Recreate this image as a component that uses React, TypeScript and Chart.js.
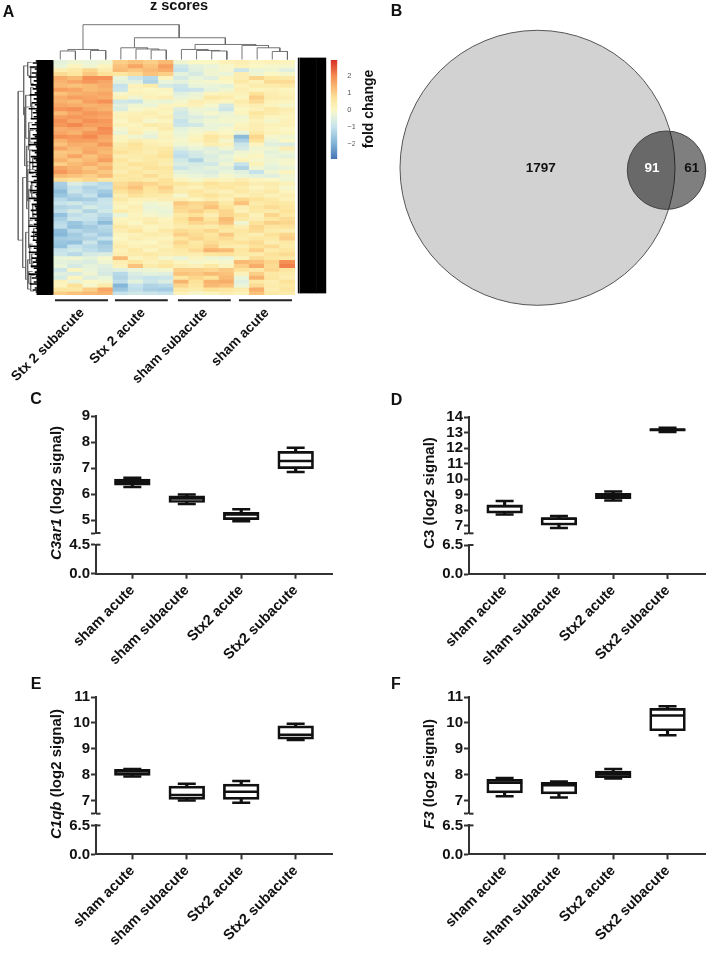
import React, { useEffect, useRef } from "react";
import { Chart, registerables } from "chart.js";

Chart.register(...registerables);
Chart.defaults.font.family = "'Liberation Sans', Arial, sans-serif";
Chart.defaults.animation = false as any;

const FONT = "'Liberation Sans', Arial, sans-serif";

// ---------- Box plots: [low whisker, Q1, median, Q3, high whisker]
const categories = ["sham acute", "sham subacute", "Stx2 acute", "Stx2 subacute"];
const c3ar1Box = [
  [6.28, 6.35, 6.46, 6.58, 6.63],
  [5.62, 5.68, 5.83, 5.94, 5.99],
  [4.96, 5.02, 5.22, 5.3, 5.42],
  [6.85, 6.98, 7.27, 7.64, 7.78],
];
const c3Box = [
  [7.72, 7.8, 8.25, 8.33, 8.58],
  [6.84, 7.02, 7.44, 7.52, 7.62],
  [8.62, 8.74, 8.91, 9.08, 9.2],
  [13.03, 13.09, 13.17, 13.25, 13.31],
];
const c1qbBox = [
  [7.94, 7.98, 8.13, 8.22, 8.23],
  [7.02, 7.06, 7.23, 7.57, 7.66],
  [6.93, 7.06, 7.35, 7.65, 7.77],
  [9.35, 9.38, 9.55, 9.89, 9.97],
];
const f3Box = [
  [7.18, 7.31, 7.7, 7.83, 7.88],
  [7.13, 7.27, 7.6, 7.72, 7.75],
  [7.86, 7.9, 8.03, 8.15, 8.23],
  [9.53, 9.7, 10.29, 10.56, 10.64],
];
const c3ar1Ticks = [5, 6, 7, 8, 9];
const c3Ticks = [7, 8, 9, 10, 11, 12, 13, 14];
const c1qbTicks = [7, 8, 9, 10, 11];
const f3Ticks = [7, 8, 9, 10, 11];

// ---------- Venn
const vennX = [152.5, 281.5];
const vennY = [167.8, 170.2];
const vennR = [137.5, 39.2];
const vennCounts = ["1797", "91", "61"];
const vennCountX = [155.7, 267, 306.7];

// ---------- Heat map (rows top to bottom, 16 samples each)
const heatRows = [
  [-.4,-.2,-.3,-.2,1.0,1.2,1.0,1.3,-.2,0,0,.2,.3,.1,.2,.1],
  [-.3,.1,-.2,.1,1.2,1.6,1.2,1.7,-.8,-.4,-.3,-.1,.2,0,-.1,-.1],
  [.3,.5,.9,.4,1.3,1.1,1.3,1.5,-1.0,-.5,-.2,-.1,-.9,-.3,-.2,-.5],
  [.8,.6,1.1,.7,.6,.8,1.2,1.0,-.4,-.7,-.2,-.3,.3,-.2,0,-.1],
  [1.5,1.3,1.9,1.9,-.3,-.9,-1.2,.1,-.7,-.3,-.5,.1,.3,.9,.6,.5],
  [1.4,1.6,1.8,1.6,-.4,-.5,-1.3,-.3,-.4,-.2,-.1,0,.5,.2,.8,.8],
  [1.3,1.2,1.3,1.5,-1.0,.2,.4,-.7,-.9,-.3,-.3,-.4,.2,.4,.4,.5],
  [1.7,1.6,1.3,1.4,-.9,.1,0,.1,-1.0,-.9,-.4,-.2,.3,.1,.2,.1],
  [1.2,1.4,1.5,1.6,-.1,.2,.1,0,-.5,-.3,.1,.2,.2,.7,.3,.2],
  [1.5,1.7,1.6,1.5,.2,-.2,.2,.3,-.3,-.2,.5,.4,.1,1.0,.4,.3],
  [1.4,1.3,1.7,1.9,-.8,-.9,-.2,-.3,-.1,.3,.2,.1,.4,.8,.2,.1],
  [1.6,1.5,1.4,1.5,-.5,-.2,-.3,.1,.1,.2,-.1,-.7,.2,.3,.1,-.1],
  [1.8,1.9,1.6,1.4,-.6,-.1,.1,.2,-.6,-.2,-.3,-.9,0,.2,.5,.3],
  [1.3,1.6,1.8,1.7,.1,.2,.3,.1,-.8,-.3,-.1,-.3,.1,.6,.4,.2],
  [1.7,1.8,1.7,1.6,.2,.3,.2,.3,-.7,-.6,-.4,-.2,-.2,.4,.1,.1],
  [1.9,1.6,1.9,1.8,0,.3,-.1,.1,-1,-.4,-.2,-.1,-.1,.2,-.1,.2],
  [1.8,2.0,1.7,1.7,.2,.1,.4,.3,-.9,-.8,-.3,-.3,.1,.3,.2,.2],
  [1.5,1.6,1.5,2.0,-.1,.2,.1,.4,-.4,-.2,-.3,-.1,.2,.3,.1,0],
  [1.6,1.4,1.8,1.9,-.3,.3,-.2,.1,-.3,-.1,.2,0,-.3,.5,.2,.1],
  [1.9,1.8,2.0,1.6,.1,-.2,-.4,.2,-.2,.1,.6,.3,-1.8,.9,-.1,-.2],
  [1.4,1.7,1.7,1.5,.1,.3,.2,.1,-.1,.2,.5,-.1,-1.4,.7,-.3,0],
  [1.2,1.5,1.4,1.8,.4,.7,.3,.2,-.2,-.1,.3,.2,-.9,.1,-.5,-.6],
  [1.6,1.3,1.5,1.4,.5,.6,.4,.5,-.6,-.3,-.5,-.2,-.7,-.2,-.2,.3],
  [1.1,1.2,1.6,1.3,.7,.5,.3,.6,-1.0,-.7,-.4,-.6,-.2,-.1,-.4,-.2],
  [1.2,1.6,1.2,1.5,.3,.4,.5,.7,-1.1,-.8,-.6,-.3,-.1,.1,-.3,-.4],
  [1.4,1.1,1.3,1.7,.6,.3,.5,.4,-.8,-1.3,-.5,-.4,.2,-.1,-.2,-.1],
  [1.0,1.3,1.5,1.2,.4,.7,.6,.3,-.6,-.7,-.8,-.2,-1.0,.2,-.3,-.1],
  [1.6,1.4,1.1,1.4,.5,.4,.7,.6,-.9,-.6,-.4,-.5,-1.3,-.2,-.4,-.3],
  [1.8,1.5,1.3,1.1,.3,.6,.4,.5,-.4,-.5,-.6,-.3,-.5,-1.0,-.2,.1],
  [1.3,1.2,1.0,1.3,.6,.5,.8,.4,-.2,-.3,-.4,-.1,-.3,-.4,-.5,-.2],
  [.8,.7,.9,.6,.5,.6,.4,.7,.1,-.1,.2,.1,.3,.1,0,-.2],
  [-1.4,-.6,-.9,-1.2,.8,1.0,.9,.7,.6,.4,.7,.5,.6,.3,.4,.2],
  [-1.5,-1.0,-1.3,-1.1,.9,1.2,.7,1.0,.3,.2,.5,.6,.4,.1,.3,-.1],
  [-1.8,-.9,-1.2,-1.5,.7,.9,.6,.8,.4,.6,.3,.2,.5,.3,.5,.1],
  [-1.6,-1.3,-1.0,-1.7,.3,.7,.5,.4,-.1,.5,.7,.4,.2,.4,.2,.3],
  [-1.2,-1.5,-1.4,-1.0,.5,.2,.2,.3,.3,.1,.4,.2,.9,.7,.5,.2],
  [-1.0,-.8,-1.1,-.9,.2,.1,-.2,-.1,1.1,.9,1.0,.5,1.2,.4,.6,.5],
  [-1.3,-1.2,-.7,-1.0,.1,.3,-.3,-.2,.9,.8,1.2,.7,.3,.6,.8,.6],
  [-1.1,-.7,-1.3,-.8,.4,.2,-.2,-.3,.8,1.0,.7,.9,.2,.5,.4,.7],
  [-1.7,-1.1,-.9,-1.2,-.3,.1,-.1,-.2,.5,.7,.3,.9,.7,.2,.9,.5],
  [-1.4,-.9,-1.0,-1.4,.1,.2,.3,.1,.7,1.2,.6,1.3,.5,.3,.6,.8],
  [-1.2,-1.6,-1.2,-1.8,.2,0,.4,.2,.6,.9,.8,1.2,-.2,.7,1.0,.9],
  [-1.1,-1.7,-1.5,-1.2,.5,.3,.1,.2,.4,.5,.4,.7,.3,.9,.6,.7],
  [-1.8,-1.2,-1.4,-1.3,.3,.6,.2,.5,.8,.7,.9,.5,.6,.8,.4,.3],
  [-1.9,-1.5,-1.1,-1.5,.1,.2,.4,.3,1.0,.8,.6,1.1,.5,.3,.7,.9],
  [-1.5,-1.4,-1.3,-1.0,0,.3,.2,.1,.6,.9,.7,.8,.4,.6,.5,1.0],
  [-1.6,-1.7,-.9,-1.6,.2,.1,0,.3,.9,.5,.8,.6,.7,.8,.3,.5],
  [-1.7,-1.0,-1.2,-1.4,.4,.2,.3,.2,.7,.6,1.0,.4,.3,.7,.8,.4],
  [-1.0,-.8,-1.1,-1.3,.2,.5,.1,.4,.5,.8,1.4,1.3,.6,1.0,.4,.6],
  [-.9,-1.2,-.7,-.6,.3,.4,.5,.3,.4,.3,.6,.7,.5,.4,.7,.8],
  [-.3,-.2,-.4,-.1,1.3,.1,.3,-.1,-.3,.1,-.2,-.3,.2,.8,.6,.5],
  [-.4,-.5,-.6,-.2,.3,.6,.2,.4,.1,-.1,0,-.1,1.3,1.2,.9,1.9],
  [-.3,-.7,-.4,-.5,.2,1.2,.4,.6,.3,.2,.5,.1,1.0,1.5,.8,2.1],
  [-.9,.1,-.3,-.6,-.5,-.3,-.2,-.1,1.0,1.0,.9,1.1,.7,.5,.9,.6],
  [-.5,-.6,-.2,-.7,-1.2,-.6,-.4,-.5,1.2,1.1,1.3,1.2,.2,1.0,.5,.4],
  [-.7,.1,-.5,-.3,-1.3,-.8,-1.0,-.9,.6,.9,.7,1.3,-.3,1.4,.6,.3],
  [.2,-.3,0,-.1,-1.1,-.4,-.9,-.6,1.4,.7,1.4,1.5,-.5,.5,.3,.7],
  [.1,.7,-.1,.4,-1.9,-1.0,-1.3,-1.2,.9,.6,1.3,1.2,-.3,.8,.4,.5],
  [.6,.5,1.0,1.6,-1.6,-1.1,-1.4,-1.5,.5,.4,.7,.6,.4,1.5,.3,.6],
  [1.0,1.2,1.3,1.4,-1.0,-.8,-.9,-1.0,.2,-.1,.1,.3,.2,1.2,.5,.4],
];
const colorStops: [number, string][] = [
  [-2.9, "#4575b4"], [-2, "#7fb2d6"], [-1, "#c6e3ec"], [-0.3, "#eaf4d8"], [0, "#fbf7c4"],
  [0.7, "#fde39a"], [1.3, "#f9bb74"], [2, "#f48a50"], [2.9, "#d73027"],
];
const colorbarTicks = [-2, -1, 0, 1, 2];
const groupNames = ["Stx 2 subacute", "Stx 2 acute", "sham subacute", "sham acute"];
const groupLabelAt = [1.95, 5.98, 10.08, 14.15];
const groupSpans = [[0.15, 3.65], [4.11, 7.6], [8.27, 11.76], [12.3, 15.8]];

// column dendrogram: [x left, height left, x right, height right, merge height]
const columnTree = [
  [0.5, 0, 1.5, 0, 8.5], [2.5, 0, 3.5, 0, 9], [1, 8.5, 3, 9, 10],
  [6.5, 0, 7.5, 0, 9.5], [5.5, 0, 7, 9.5, 10.5], [4.5, 0, 6.25, 10.5, 11.7],
  [10.5, 0, 11.5, 0, 8.5], [9.5, 0, 11, 8.5, 9], [8.5, 0, 10.25, 9, 10],
  [14.5, 0, 15.5, 0, 8], [13.5, 0, 15, 8, 11.7], [12.5, 0, 14.25, 11.7, 14],
  [9.4, 10, 13.4, 14, 15], [5.4, 11.7, 11.4, 15, 21.7], [2, 10, 8.35, 21.7, 34.7],
];
// row dendrogram: [depth, row a, child depth a, row b, child depth b]
const rowTree = [
  [34.5, 8, 29, 46, 30], [29, 1.5, 25, 14, 27], [25, 0.6, 21, 4, 22], [27, 9, 22, 20, 24],
  [24, 16, 20, 23, 21], [30, 30, 26, 53, 27], [26, 26, 23, 38, 24], [23, 23, 20, 29, 19],
  [24, 33, 21, 42, 20], [27, 44, 24, 56, 25], [24, 41, 20, 48, 21], [25, 51, 21, 58.5, 22],
  [21, 49.5, 18, 53, 19], [22, 55, 18, 59, 19], [22, 2, 18, 6, 19], [21, 11, 17, 15, 18],
  [20, 25, 17, 28, 18], [21, 31, 17, 35, 18], [20, 37, 17, 40, 18], [19, 43, 16, 46, 17],
  [22, 7, 19, 12, 18], [23, 18, 19, 21, 20], [25, 28, 21, 36, 22], [22, 32, 19, 34, 18],
  [23, 47, 20, 52, 19], [24, 54, 20, 57, 21], [26, 22, 22, 31, 21], [28, 12, 23, 27, 24],
];
// leaf depth of the row dendrogram, top to bottom
const leafDepths = [
  17,20,15,23,18,16,21,17,24,16,19,15,22,17,20,16,18,23,15,19,
  16,21,18,15,24,17,20,16,19,22,15,18,21,16,23,17,15,20,18,22,
  16,19,24,17,15,21,18,16,22,19,17,23,15,20,16,18,24,17,21,15,
  19,22,16,18,15,23,20,17,16,24,19,15,21,18,17,22,16,20,15,23,
  18,16,19,24,17,15,21,18,22,16,20,17,15,23,19,16,24,18,15,21,
  17,20,16,22,19,15,18,24,17,21,16,19,23,15,18,20,17,16,
];
// black annotation block right of the heat map: [from, to]
const annotationBlock = [[0, 1.3], [2.1, 3], [3.4, 13], [13.3, 18.4], [18.7, 28.4]];

// ---------- helpers
function heatColor(v: number) {
  const s = colorStops;
  if (v <= s[0][0]) return s[0][1];
  for (let i = 1; i < s.length; i++) {
    if (v <= s[i][0]) {
      const t = (v - s[i - 1][0]) / (s[i][0] - s[i - 1][0]);
      const a = s[i - 1][1], b = s[i][1];
      const ch = (h: string, o: number) => parseInt(h.substr(o, 2), 16);
      const m = (o: number) => Math.round(ch(a, o) + (ch(b, o) - ch(a, o)) * t);
      return `rgb(${m(1)},${m(3)},${m(5)})`;
    }
  }
  return s[s.length - 1][1];
}

type Spec = { left: number; top: number; width: number; height: number; config: any };
const hidden = { display: false };

function treeLine(points: { x: number; y: number }[], color = "#666", w = 0.9) {
  return { type: "scatter", data: points, showLine: true, pointRadius: 0, borderColor: color, borderWidth: w, tension: 0, clip: false };
}

function heatSpec(): Spec {
  const left = 0, top = 0, width = 330, height = 390;
  const L = 52.7, R = 295, T = 60, B = 295;
  const datasets = heatRows.map((row, r) => ({
    type: "bar",
    data: row.map((_, c) => ({ x: c + 0.5, y: [r, r + 1] })),
    backgroundColor: row.map(heatColor),
    barThickness: 15.7,
    grouped: false,
    borderWidth: 0,
  }));
  return {
    left, top, width, height,
    config: {
      type: "scatter",
      data: { datasets },
      options: {
        responsive: false, animation: false,
        layout: { autoPadding: false, padding: { left: L, right: width - R, top: T, bottom: 0 } },
        plugins: { legend: hidden, tooltip: { enabled: false } },
        scales: {
          x: {
            type: "linear", min: 0, max: 16, offset: false,
            grid: { display: false, offset: false }, border: { display: false },
            afterBuildTicks: (s: any) => { s.ticks = groupLabelAt.map((value) => ({ value })); },
            afterFit: (s: any) => { s.height = height - B; },
            ticks: {
              autoSkip: false, minRotation: 45, maxRotation: 45, padding: 2, color: "#111",
              font: { size: 13.7, weight: "bold" },
              callback: (v: number) => groupNames[groupLabelAt.indexOf(v)],
            },
          },
          y: { type: "linear", display: false, reverse: true, min: 0, max: heatRows.length, beginAtZero: false },
        },
      },
      plugins: [{
        id: "groupBars",
        afterDraw(chart: any) {
          const { ctx, scales: { x } } = chart;
          ctx.save();
          ctx.strokeStyle = "#222";
          ctx.lineWidth = 2;
          groupSpans.forEach(([a, b]) => {
            ctx.beginPath();
            ctx.moveTo(x.getPixelForValue(a), B + 5.2);
            ctx.lineTo(x.getPixelForValue(b), B + 5.2);
            ctx.stroke();
          });
          ctx.restore();
        },
      }],
    },
  };
}

function columnTreeSpec(): Spec {
  const left = 0, top = 20, width = 330, height = 42;
  const L = 52.7, R = 295, T = 24.7, B = 59.5;
  const datasets = columnTree.map(([xa, ha, xb, hb, h]) =>
    treeLine([{ x: xa, y: ha }, { x: xa, y: h }, { x: xb, y: h }, { x: xb, y: hb }]));
  return {
    left, top, width, height,
    config: {
      type: "scatter", data: { datasets },
      options: {
        responsive: false, animation: false,
        layout: { autoPadding: false, padding: { left: L, right: width - R, top: T - top, bottom: top + height - B } },
        plugins: { legend: hidden, tooltip: { enabled: false } },
        scales: {
          x: { type: "linear", display: false, min: 0, max: 16 },
          y: { type: "linear", display: false, min: 0, max: 34.7 },
        },
      },
    },
  };
}

function rowTreeSpec(): Spec {
  const left = 0, top = 50, width = 54, height = 255;
  const L = 17.7, R = 52.7, T = 60, B = 295;
  const zig: { x: number; y: number }[] = [];
  leafDepths.forEach((d, i) => {
    const y = ((i + 0.5) * heatRows.length) / leafDepths.length;
    zig.push({ x: 0, y }, { x: d, y }, { x: 0, y });
  });
  const datasets: any[] = [
    treeLine(zig, "#000", 1.6),
    treeLine([{ x: 8, y: 0 }, { x: 8, y: heatRows.length }], "#000", 16),
  ];
  rowTree.forEach(([d, ra, da, rb, db]) => {
    datasets.push(treeLine([{ x: da, y: ra }, { x: d, y: ra }, { x: d, y: rb }, { x: db, y: rb }], "#666", 0.8));
  });
  return {
    left, top, width, height,
    config: {
      type: "scatter", data: { datasets },
      options: {
        responsive: false, animation: false,
        layout: { autoPadding: false, padding: { left: L, right: width - R, top: T - top, bottom: top + height - B } },
        plugins: { legend: hidden, tooltip: { enabled: false } },
        scales: {
          x: { type: "linear", display: false, reverse: true, min: 0, max: 35 },
          y: { type: "linear", display: false, reverse: true, min: 0, max: heatRows.length },
        },
      },
    },
  };
}

function annotationSpec(): Spec {
  const left = 295, top = 50, width = 36, height = 250;
  const L = 297.7, R = 326.5, T = 57.5, B = 293.5;
  const datasets = annotationBlock.map((seg) => ({
    data: [seg], backgroundColor: "#000", barPercentage: 1, categoryPercentage: 1, grouped: false, borderWidth: 0,
  }));
  return {
    left, top, width, height,
    config: {
      type: "bar", data: { labels: ["annotation"], datasets },
      options: {
        indexAxis: "y", responsive: false, animation: false,
        layout: { autoPadding: false, padding: { left: L - left, right: left + width - R, top: T - top, bottom: top + height - B } },
        plugins: { legend: hidden, tooltip: { enabled: false } },
        scales: {
          x: { type: "linear", display: false, min: 0, max: 28.8 },
          y: { display: false },
        },
      },
    },
  };
}

function colorbarSpec(): Spec {
  const left = 325, top = 50, width = 30, height = 120;
  const L = 330.7, R = 337.3, T = 60, B = 159;
  const vMin = -2.88, vMax = 2.92;
  return {
    left, top, width, height,
    config: {
      type: "bar",
      data: {
        labels: ["fold change"],
        datasets: [{
          data: [[vMin, vMax]],
          barPercentage: 1, categoryPercentage: 1, borderWidth: 0,
          backgroundColor: (c: any) => {
            const { chart } = c;
            const y = chart.scales.y;
            if (!chart.chartArea || !y) return "#fff";
            const g = chart.ctx.createLinearGradient(0, y.getPixelForValue(vMin), 0, y.getPixelForValue(vMax));
            colorStops.forEach(([v, col]) => {
              const t = (Math.min(vMax, Math.max(vMin, v)) - vMin) / (vMax - vMin);
              g.addColorStop(t, col);
            });
            return g;
          },
        }],
      },
      options: {
        responsive: false, animation: false,
        layout: { autoPadding: false, padding: { left: L - left, right: 0, top: T - top, bottom: top + height - B } },
        plugins: { legend: hidden, tooltip: { enabled: false } },
        scales: {
          x: { display: false },
          y: {
            type: "linear", position: "right", min: vMin, max: vMax,
            grid: { display: false }, border: { display: false },
            afterBuildTicks: (s: any) => { s.ticks = colorbarTicks.map((value) => ({ value })); },
            afterFit: (s: any) => { s.width = left + width - R; },
            ticks: {
              padding: 2, color: "#555", font: { size: 7.5 },
              callback: (v: number) => (v < 0 ? "\u2212" + Math.abs(v) : String(v)),
            },
          },
        },
      },
    },
  };
}

function vennSpec(): Spec {
  const left = 385, top = 0, width = 323, height = 320;
  return {
    left, top, width, height,
    config: {
      type: "bubble",
      data: {
        datasets: [
          { data: [{ x: vennX[0], y: vennY[0], r: vennR[0] }], backgroundColor: "#d2d2d2", borderColor: "#555", borderWidth: 1, clip: false, order: 2 },
          { data: [{ x: vennX[1], y: vennY[1], r: vennR[1] }], backgroundColor: "rgba(0,0,0,0.5)", borderColor: "#444", borderWidth: 1, clip: false, order: 1 },
        ],
      },
      options: {
        responsive: false, animation: false,
        layout: { autoPadding: false },
        plugins: { legend: hidden, tooltip: { enabled: false } },
        scales: {
          x: { type: "linear", display: false, min: 0, max: width },
          y: { type: "linear", display: false, reverse: true, min: 0, max: height },
        },
      },
      plugins: [{
        id: "vennCounts",
        afterDraw(chart: any) {
          const { ctx, scales: { x, y } } = chart;
          ctx.save();
          ctx.font = `bold 13.5px ${FONT}`;
          ctx.textAlign = "center";
          ctx.textBaseline = "middle";
          vennCounts.forEach((t, i) => {
            ctx.fillStyle = i === 1 ? "#fff" : "#111";
            ctx.fillText(t, x.getPixelForValue(vennCountX[i]), y.getPixelForValue(168));
          });
          ctx.restore();
        },
      }],
    },
  };
}

function boxSpec(o: {
  box: number[][]; ticks: number[]; L: number; R: number; T: number; breakY: number; lowTopY: number; B: number;
  upMin: number; upMax: number; lowMax: number; xMin: number; xMax: number; left: number;
}): Spec {
  const left = o.left, top = o.T - 15, width = 350, height = 275;
  const base = { xAxisID: "x", yAxisID: "yUp" };
  const datasets: any[] = [
    {
      ...base, type: "bar", order: 3, grouped: false, barThickness: 2.5, backgroundColor: "#111", borderWidth: 0,
      data: o.box.map((b, i) => ({ x: i, y: [b[0], b[4]] })),
    },
    {
      ...base, type: "bar", order: 2, grouped: false, barThickness: 35.7, backgroundColor: "#fff",
      borderColor: "#111", borderWidth: 2.7, borderSkipped: false,
      data: o.box.map((b, i) => ({ x: i, y: [b[1], b[3]] })),
    },
    {
      ...base, type: "scatter", order: 1, showLine: false, pointStyle: "line", pointRadius: 17.5,
      pointBorderWidth: 2.5, pointBorderColor: "#111",
      data: o.box.map((b, i) => ({ x: i, y: b[2] })),
    },
    {
      ...base, type: "scatter", order: 1, showLine: false, pointStyle: "line", pointRadius: 9,
      pointBorderWidth: 2.5, pointBorderColor: "#111",
      data: o.box.flatMap((b, i) => [{ x: i, y: b[0] }, { x: i, y: b[4] }]),
    },
  ];
  const axisGrid = { display: true, drawOnChartArea: false, drawTicks: true, tickLength: 5, tickWidth: 2, tickColor: "#333", offset: false };
  const axisBorder = { display: true, color: "#333", width: 2 };
  const fixW = (s: any) => { s.width = o.L - left; };
  const tickFont = { size: 15, weight: "bold" };
  return {
    left, top, width, height,
    config: {
      type: "scatter",
      data: { datasets },
      options: {
        responsive: false, animation: false,
        layout: { autoPadding: false, padding: { left: 0, right: Math.max(0, left + width - o.R), top: o.T - top, bottom: 0 } },
        plugins: { legend: hidden, tooltip: { enabled: false } },
        scales: {
          x: {
            type: "linear", min: o.xMin, max: o.xMax, offset: false, grid: axisGrid, border: axisBorder,
            afterBuildTicks: (s: any) => { s.ticks = categories.map((_, value) => ({ value })); },
            afterFit: (s: any) => { s.height = top + height - o.B; },
            ticks: {
              autoSkip: false, minRotation: 45, maxRotation: 45, padding: 3, color: "#111",
              font: { size: 14.5, weight: "bold" },
              callback: (v: number) => categories[v],
            },
          },
          yLow: {
            type: "linear", position: "left", stack: "broken", stackWeight: o.B - o.lowTopY,
            min: 0, max: o.lowMax, beginAtZero: false, grid: axisGrid, border: axisBorder, afterFit: fixW,
            afterBuildTicks: (s: any) => { s.ticks = [{ value: 0 }, { value: o.lowMax }]; },
            ticks: { autoSkip: false, padding: 1, color: "#111", font: tickFont, callback: (v: number) => v.toFixed(1) },
          },
          yGap: {
            type: "linear", position: "left", display: false, stack: "broken", stackWeight: o.lowTopY - o.breakY,
            min: 0, max: 1, afterFit: fixW,
          },
          yUp: {
            type: "linear", position: "left", stack: "broken", stackWeight: o.breakY - o.T,
            min: o.upMin, max: o.upMax, beginAtZero: false, grid: axisGrid, border: axisBorder, afterFit: fixW,
            afterBuildTicks: (s: any) => { s.ticks = [o.upMin, ...o.ticks].map((value) => ({ value })); },
            ticks: {
              autoSkip: false, padding: 1, color: "#111", font: tickFont,
              callback: (v: number) => (o.ticks.includes(v) ? String(v) : ""),
            },
          },
        },
      },
      plugins: [{
        id: "axisBreak",
        afterDraw(chart: any) {
          const { ctx, scales: { yUp, yLow } } = chart;
          ctx.save();
          ctx.strokeStyle = "#333";
          ctx.lineWidth = 2;
          [yUp.getPixelForValue(o.upMin), yLow.getPixelForValue(o.lowMax)].forEach((py: number) => {
            ctx.beginPath();
            ctx.moveTo(yUp.right, py);
            ctx.lineTo(yUp.right + 4.5, py);
            ctx.stroke();
          });
          ctx.restore();
        },
      }],
    },
  };
}

function allSpecs(): Spec[] {
  return [
    heatSpec(), columnTreeSpec(), rowTreeSpec(), annotationSpec(), colorbarSpec(), vennSpec(),
    boxSpec({ box: c3ar1Box, ticks: c3ar1Ticks, left: 0, L: 96, R: 332.7, T: 416, breakY: 533, lowTopY: 544.7, B: 573.7, upMin: 4.51, upMax: 9, lowMax: 4.5, xMin: -0.667, xMax: 3.68 }),
    boxSpec({ box: c3Box, ticks: c3Ticks, left: 358, L: 469, R: 705, T: 416.7, breakY: 533, lowTopY: 544.7, B: 573.7, upMin: 6.5, upMax: 14, lowMax: 6.5, xMin: -0.656, xMax: 3.69 }),
    boxSpec({ box: c1qbBox, ticks: c1qbTicks, left: 0, L: 96, R: 332.7, T: 697.3, breakY: 814, lowTopY: 825.7, B: 854.7, upMin: 6.51, upMax: 11, lowMax: 6.5, xMin: -0.667, xMax: 3.68 }),
    boxSpec({ box: f3Box, ticks: f3Ticks, left: 358, L: 469, R: 705, T: 697.3, breakY: 814, lowTopY: 825.7, B: 854.7, upMin: 6.51, upMax: 11, lowMax: 6.5, xMin: -0.656, xMax: 3.69 }),
  ];
}

function ChartCanvas({ spec }: { spec: Spec }) {
  const ref = useRef<HTMLCanvasElement>(null);
  useEffect(() => {
    const chart = new Chart(ref.current as HTMLCanvasElement, spec.config);
    return () => chart.destroy();
  }, []);
  return (
    <canvas
      ref={ref}
      width={spec.width}
      height={spec.height}
      style={{ position: "absolute", left: spec.left, top: spec.top, width: spec.width, height: spec.height }}
    />
  );
}

function Label(p: { x: number; y: number; rot?: number; size?: number; children: React.ReactNode }) {
  return (
    <div
      style={{
        position: "absolute", left: p.x, top: p.y, whiteSpace: "nowrap", fontFamily: FONT, fontWeight: "bold",
        fontSize: p.size ?? 15, color: "#111", lineHeight: 1,
        transform: `translate(-50%,-50%) rotate(${p.rot ?? 0}deg)`,
      }}
    >
      {p.children}
    </div>
  );
}

const specs = allSpecs();

export default function App() {
  return (
    <div style={{ position: "absolute", left: 0, top: 0, width: 708, height: 959, overflow: "hidden", background: "#fff" }}>
      {specs.map((s, i) => <ChartCanvas key={i} spec={s} />)}
      <Label x={179} y={5} size={14.5}>z scores</Label>
      <Label x={368} y={109} rot={-90} size={14}>fold change</Label>
      <Label x={8.5} y={12} size={16}>A</Label>
      <Label x={396.5} y={11} size={16}>B</Label>
      <Label x={36} y={399} size={16}>C</Label>
      <Label x={396.5} y={399.5} size={16}>D</Label>
      <Label x={36} y={684} size={16}>E</Label>
      <Label x={396} y={684} size={16}>F</Label>
      <Label x={55} y={493} rot={-90}><i>C3ar1</i> (log2 signal)</Label>
      <Label x={428.3} y={492.5} rot={-90}>C3 (log2 signal)</Label>
      <Label x={55} y={773.8} rot={-90}><i>C1qb</i> (log2 signal)</Label>
      <Label x={428.3} y={773.7} rot={-90}><i>F3</i> (log2 signal)</Label>
    </div>
  );
}
